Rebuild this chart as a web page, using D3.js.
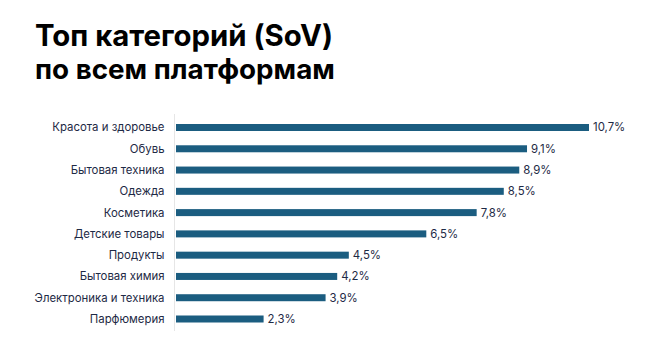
<!DOCTYPE html>
<html><head><meta charset="utf-8">
<script src="https://cdn.jsdelivr.net/npm/d3@7"></script>
<style>body{margin:0;background:#fff;} svg{display:block;}</style>
</head><body>
<script>
const titleLines = ["Топ категорий (SoV)", "по всем платформам"];
const categories = ["Красота и здоровье","Обувь","Бытовая техника","Одежда","Косметика","Детские товары","Продукты","Бытовая химия","Электроника и техника","Парфюмерия"];
const values = [10.7, 9.1, 8.9, 8.5, 7.8, 6.5, 4.5, 4.2, 3.9, 2.3];
const valueLabels = ["10,7%","9,1%","8,9%","8,5%","7,8%","6,5%","4,5%","4,2%","3,9%","2,3%"];

const W = 649, H = 340;
const svg = d3.select("body").append("svg").attr("width", W).attr("height", H);
const font = "Inter, 'Noto Sans', 'DejaVu Sans', sans-serif";

const t = svg.append("g");
titleLines.forEach((s, i) => {
  const el = t.append("text").attr("x", 35).attr("y", 46 + i * 33)
    .attr("font-family", font).attr("font-weight", 700).attr("font-size", 26)
    .attr("fill", "#000").text(s);
  const w = el.node().getComputedTextLength();
  const target = i === 0 ? 298 : 300;
  el.attr("font-size", 26 * target / w);
});

const x = d3.scaleLinear().domain([0, 10.7]).range([174.5, 589]);
const y = d3.scalePoint().domain(categories).range([127.5, 319]);
const bh = 7;

svg.append("g").selectAll("rect").data(categories).join("rect")
  .attr("x", x(0) + 1.5)
  .attr("y", d => y(d) - bh / 2)
  .attr("width", (d, i) => x(values[i]) - x(0) - 1.5)
  .attr("height", bh)
  .attr("fill", "#1b5d80");

svg.append("line").attr("x1", x(0)).attr("x2", x(0)).attr("y1", 114).attr("y2", 331)
  .attr("stroke", "#e6e6e6").attr("stroke-width", 1);

svg.append("g").selectAll("text").data(categories).join("text")
  .attr("x", 164.5).attr("y", d => y(d)).attr("dy", "0.35em")
  .attr("text-anchor", "end").attr("font-family", font).attr("font-size", 11.4)
  .attr("fill", "#1e2a45").text(d => d);

svg.append("g").selectAll("text").data(categories).join("text")
  .attr("x", (d, i) => x(values[i]) + 4).attr("y", d => y(d)).attr("dy", "0.35em")
  .attr("font-family", font).attr("font-size", 11.4)
  .attr("fill", "#1e2a45").text((d, i) => valueLabels[i]);
</script>
</body></html>
